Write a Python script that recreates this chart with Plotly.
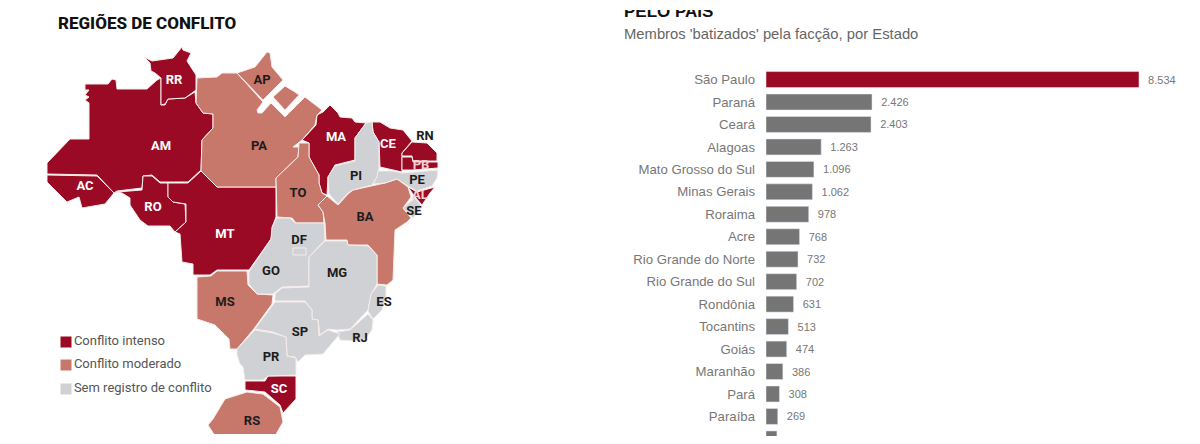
import plotly.graph_objects as go

# bar chart data
estados = ["São Paulo", "Paraná", "Ceará", "Alagoas", "Mato Grosso do Sul", "Minas Gerais", "Roraima", "Acre",
           "Rio Grande do Norte", "Rio Grande do Sul", "Rondônia", "Tocantins", "Goiás", "Maranhão", "Pará", "Paraíba",
           "(cortado)"]  # last row is cut off in the picture, name not readable
membros = [8534, 2426, 2403, 1263, 1096, 1062, 978, 768, 732, 702, 631, 513, 474, 386, 308, 269, 250]
rotulos = ["8.534", "2.426", "2.403", "1.263", "1.096", "1.062", "978", "768", "732", "702", "631", "513", "474",
           "386", "308", "269", ""]

# map outlines in pixels
AM = [(85, 84), (108, 84), (112, 79), (116, 80), (117, 89), (147, 89), (157, 80), (161, 78), (161, 105), (165, 105),
      (168, 99), (185, 98), (195, 92), (196, 103), (203, 113), (213, 114), (213, 128), (202, 140), (201, 170),
      (188, 182), (160, 182), (152, 175), (143, 176), (142, 188), (117, 191), (114, 193), (97, 175), (47, 174),
      (47, 163), (70, 139), (89, 139), (89, 103), (85, 100), (89, 97), (85, 95), (89, 90), (85, 90)]
RR = [(144, 57), (152, 61), (173, 58), (182, 47), (183, 50), (191, 53), (187, 61), (196, 75), (196, 90), (185, 98),
      (168, 99), (165, 104), (161, 105), (161, 78), (155, 73), (151, 71), (150, 63)]
AC = [(47, 175), (97, 176), (114, 193), (105, 204), (82, 208), (79, 197), (67, 202), (47, 182)]
RO = [(117, 192), (142, 190), (143, 176), (152, 176), (160, 183), (168, 183), (168, 197), (173, 202), (185, 204),
      (186, 222), (175, 232), (170, 226), (148, 226), (140, 220), (130, 205), (130, 198), (122, 193)]
MT = [(168, 183), (188, 183), (201, 171), (217, 187), (276, 187), (276, 217), (273, 225), (271, 239), (249, 270),
      (217, 270), (210, 275), (193, 275), (193, 264), (182, 262), (180, 234), (175, 232), (186, 222), (186, 204),
      (173, 202), (168, 197)]
PA = [(197, 78), (217, 77), (222, 73), (237, 73), (263, 102), (257, 110), (258, 113), (262, 113), (271, 103),
      (285, 117), (305, 97), (322, 110), (317, 115), (315, 125), (302, 140), (293, 147), (299, 147), (298, 157),
      (276, 178), (276, 187), (217, 187), (201, 171), (202, 140), (213, 128), (213, 114), (203, 113), (196, 103)]
AP = [(237, 73), (255, 67), (267, 52), (270, 53), (272, 67), (283, 80), (263, 100), (240, 77)]
MARAJO = [(273, 97), (285, 86), (295, 92), (299, 95), (285, 110)]
MA = [(330, 105), (338, 113), (340, 117), (352, 118), (355, 122), (366, 123), (355, 138), (355, 160), (335, 165),
      (328, 177), (327, 195), (322, 193), (319, 183), (319, 175), (309, 157), (309, 143), (302, 140), (316, 125),
      (317, 115), (323, 112)]
PI = [(366, 123), (372, 122), (373, 132), (379, 142), (379, 168), (377, 177), (372, 185), (353, 190), (348, 193),
      (338, 204), (329, 194), (328, 177), (335, 166), (355, 161), (355, 138)]
CE = [(372, 122), (380, 122), (390, 128), (403, 130), (412, 141), (402, 153), (402, 172), (392, 170), (380, 167),
      (379, 142), (373, 132)]
RN = [(412, 142), (427, 143), (437, 153), (437, 161), (413, 161), (412, 156), (402, 156), (402, 153)]
PB = [(402, 157), (412, 157), (413, 162), (438, 162), (438, 168), (412, 170), (402, 170)]
PE = [(378, 171), (392, 171), (402, 173), (438, 170), (437, 178), (432, 186), (417, 191), (408, 186), (397, 179),
      (385, 183), (373, 184), (377, 177)]
AL = [(408, 187), (417, 192), (435, 187), (430, 193), (422, 205), (415, 197)]
SE = [(415, 198), (422, 207), (413, 218), (403, 208), (410, 202)]
BA = [(318, 205), (327, 196), (338, 205), (348, 194), (353, 190), (372, 186), (385, 183), (397, 179), (408, 187),
      (411, 197), (403, 208), (411, 218), (407, 222), (395, 230), (393, 280), (387, 285), (377, 284), (377, 255),
      (368, 245), (348, 245), (347, 240), (326, 240), (325, 223), (323, 212)]
TO = [(299, 143), (309, 143), (309, 157), (319, 175), (319, 183), (322, 193), (327, 196), (318, 205), (323, 212),
      (324, 223), (296, 223), (292, 218), (277, 217), (276, 178), (298, 157)]
GO = [(272, 227), (277, 218), (290, 218), (295, 223), (324, 223), (325, 240), (309, 257), (309, 286), (282, 287),
      (273, 294), (257, 294), (249, 284), (249, 272), (271, 239)]
DF = [(293, 248), (306, 248), (306, 255), (293, 255)]
MG = [(325, 241), (347, 241), (348, 245), (368, 246), (377, 255), (377, 284), (371, 294), (368, 310), (350, 329),
      (337, 330), (328, 329), (320, 335), (318, 320), (312, 319), (312, 310), (305, 301), (275, 301), (275, 294),
      (282, 288), (309, 287), (309, 257)]
ES = [(378, 285), (386, 286), (386, 297), (382, 310), (373, 319), (368, 311), (371, 294)]
RJ = [(368, 314), (373, 320), (372, 330), (365, 339), (355, 341), (340, 340), (337, 332), (350, 330)]
SP = [(275, 302), (305, 302), (312, 310), (312, 319), (318, 320), (319, 336), (328, 330), (340, 334), (333, 342),
      (323, 354), (305, 355), (298, 362), (295, 357), (287, 356), (286, 337), (273, 332), (255, 329)]
MS = [(197, 277), (211, 276), (217, 271), (247, 271), (248, 285), (257, 294), (273, 295), (272, 304), (253, 330),
      (237, 349), (230, 349), (229, 339), (215, 325), (197, 319)]
PR = [(255, 330), (273, 333), (286, 337), (287, 356), (296, 358), (296, 375), (268, 376), (263, 380), (245, 380),
      (243, 367), (240, 364), (237, 355), (237, 349)]
SC = [(245, 381), (265, 381), (268, 376), (296, 376), (296, 399), (283, 413), (280, 405), (265, 392), (245, 390)]
RS = [(247, 392), (263, 394), (280, 407), (283, 422), (275, 436), (215, 436), (208, 425), (213, 419), (225, 399)]

intenso = [AM, RR, AC, RO, MT, MA, CE, RN, PB, AL, SC]
moderado = [PA, AP, MARAJO, TO, BA, MS, RS]
sem_registro = [PI, PE, SE, GO, DF, MG, ES, RJ, SP, PR]

# state labels
siglas = ["RR", "AP", "AM", "PA", "AC", "RO", "MA", "CE", "RN", "PB", "PE", "PI", "TO", "BA", "AL", "SE", "MT", "DF",
          "GO", "MG", "ES", "MS", "SP", "RJ", "PR", "SC", "RS"]
siglas_x = [174, 262, 161, 259, 85, 153, 336, 388, 425, 421, 417, 356, 298, 365, 420, 414, 225, 299, 271, 337, 384,
            225, 300, 360, 271, 279, 252]
siglas_y = [81, 81, 147, 147, 187, 208, 138, 145, 137, 166, 181, 177, 194, 218, 196, 212, 235, 241, 272, 274, 303,
            303, 333, 339, 358, 390, 422]
claras = ["RR", "AM", "AC", "RO", "MA", "CE", "MT", "SC"]
rosadas = ["PB", "AL"]

# legend
legenda = ["Conflito intenso", "Conflito moderado", "Sem registro de conflito"]
legenda_y = [342, 365, 389]

VERMELHO = "#9b0a24"
SALMAO = "#c8776b"
CINZA = "#cfd1d4"
CINZA_BARRA = "#757575"
CONDENSADA = "Roboto, sans-serif"
ARIAL = "Liberation Sans, Arial, sans-serif"

fig = go.Figure()

# map goes on x/y, one axis unit = one pixel of the picture
for grupo, cor in [(intenso, VERMELHO), (moderado, SALMAO), (sem_registro, CINZA)]:
    for poly in grupo:
        xs = [p[0] for p in poly] + [poly[0][0]]
        ys = [p[1] for p in poly] + [poly[0][1]]
        fig.add_scatter(x=xs, y=ys, mode="lines", fill="toself", fillcolor=cor,
                        line=dict(color="#f6ecea", width=1), hoverinfo="skip", showlegend=False)

cores_siglas = []
for s in siglas:
    if s in claras:
        cores_siglas.append("#ffffff")
    elif s in rosadas:
        cores_siglas.append("#f3cfd2")
    else:
        cores_siglas.append("#1c1c1c")
fig.add_scatter(x=siglas_x, y=siglas_y, mode="text", text=siglas,
                textfont=dict(family=CONDENSADA, size=13, color=cores_siglas, weight="bold"),
                hoverinfo="skip", showlegend=False)

fig.add_scatter(x=[66, 66, 66], y=legenda_y, mode="markers+text", text=legenda, textposition="middle right",
                marker=dict(symbol="square", size=11, color=[VERMELHO, SALMAO, CINZA]),
                textfont=dict(family=CONDENSADA, size=13, color="#555555"), hoverinfo="skip", showlegend=False)

fig.add_scatter(x=[58], y=[25], mode="text", text=["REGIÕES DE CONFLITO"], textposition="middle right",
                textfont=dict(family=CONDENSADA, size=17, color="#111111", weight=800),
                hoverinfo="skip", showlegend=False)

# clipped by the top of the axis, same as the picture
fig.add_scatter(x=[624], y=[13], mode="text", text=["PELO PAÍS"], textposition="middle right",
                textfont=dict(family=ARIAL, size=17, color="#111111", weight="bold"),
                hoverinfo="skip", showlegend=False)
fig.add_scatter(x=[624], y=[35], mode="text", text=["Membros 'batizados' pela facção, por Estado"],
                textposition="middle right", textfont=dict(family=ARIAL, size=14.8, color="#666666"),
                hoverinfo="skip", showlegend=False)

cores_barras = [VERMELHO] + [CINZA_BARRA] * (len(membros) - 1)
fig.add_bar(x=membros, y=estados, orientation="h", xaxis="x2", yaxis="y2", marker=dict(color=cores_barras),
            text=["\u00a0\u00a0" + r for r in rotulos], textposition="outside", textangle=0,
            textfont=dict(family=ARIAL, size=11, color="#777777"), hoverinfo="skip", showlegend=False)

fig.update_layout(
    width=1200, height=444,
    margin=dict(l=0, r=0, t=0, b=0),
    paper_bgcolor="white", plot_bgcolor="rgba(0,0,0,0)",
    bargap=0.29,
    xaxis=dict(domain=[0, 1], range=[0, 1200], visible=False),
    yaxis=dict(domain=[1 - 434 / 444, 1 - 10 / 444], range=[434, 10], visible=False),
    xaxis2=dict(domain=[766 / 1200, 1], range=[0, 9930], anchor="y2", visible=False),
    yaxis2=dict(domain=[1 - 436 / 444, 1 - 68.3 / 444], range=[15.87, -0.5], anchor="x2", type="category",
                categoryorder="array", categoryarray=estados, showgrid=False, showline=False, zeroline=False,
                ticks="", ticklabelstandoff=10, tickfont=dict(family=ARIAL, size=13.2, color="#777777")),
)

fig.write_html("out.html", config=dict(displayModeBar=False), post_script="document.body.style.margin='0'")
